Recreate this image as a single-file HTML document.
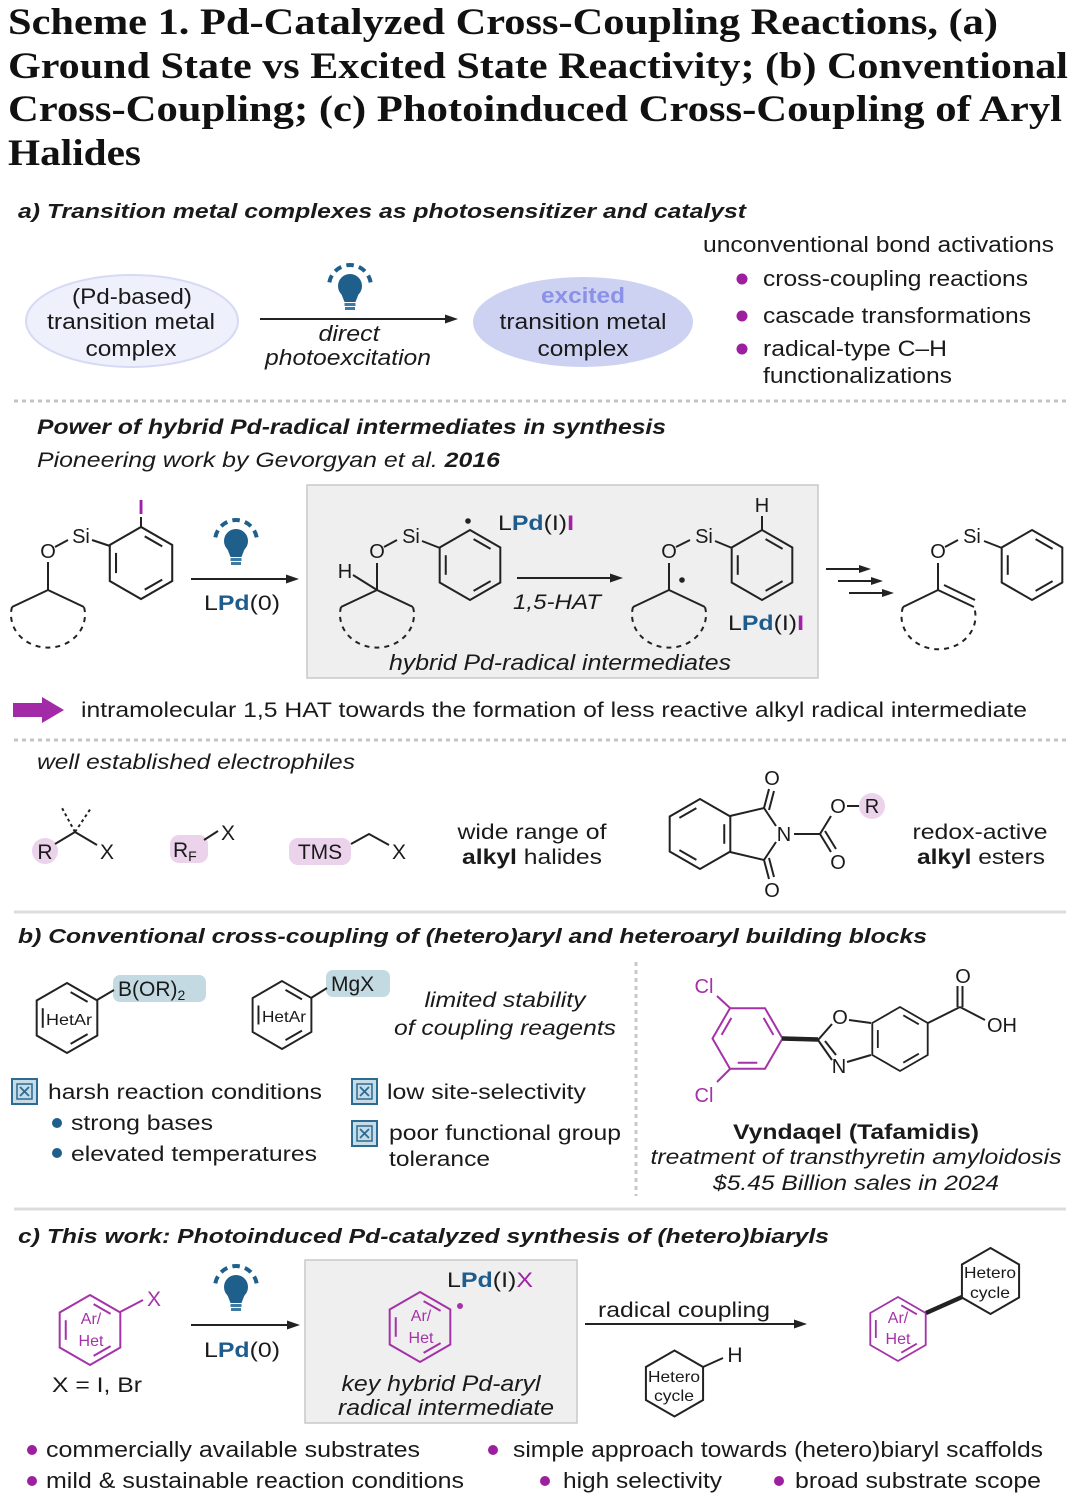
<!DOCTYPE html>
<html><head><meta charset="utf-8"><style>
html,body{margin:0;padding:0;background:#fff;width:1080px;height:1505px;overflow:hidden}
svg{display:block}
</style></head><body>
<svg width="1080" height="1505" viewBox="0 0 1080 1505" font-family="'Liberation Sans', Arial, sans-serif" fill="#1a1a1a">
<defs>
<g id="bz" fill="none">
<polygon points="0,-35 30.31,-17.5 30.31,17.5 0,35 -30.31,17.5 -30.31,-17.5"/>
<line x1="3.6" y1="-25.9" x2="20.6" y2="-16.1"/>
<line x1="-24.25" y1="-9.8" x2="-24.25" y2="9.8"/>
<line x1="20.6" y1="16.1" x2="3.6" y2="25.9"/>
</g>
<g id="hx" fill="none"><polygon points="0,-33 28.58,-16.5 28.58,16.5 0,33 -28.58,16.5 -28.58,-16.5"/></g>
<g id="bulb">
<path d="M-20.68,-3.65 A21,21 0 0 1 20.68,-3.65" fill="none" stroke="#1f5f8b" stroke-width="4" stroke-dasharray="7.5 5.3"/>
<circle r="12" fill="#1f5f8b"/>
<path d="M-9,7 L-5.5,16 L5.5,16 L9,7 Z" fill="#1f5f8b"/>
<rect x="-5.5" y="17" width="11" height="3" fill="#3d7ba3"/>
<rect x="-5" y="21" width="10" height="3" fill="#3d7ba3"/>
</g>
<g id="chk">
<rect x="0" y="0" width="25" height="25" fill="#c7dce6" stroke="#2c6b92" stroke-width="2"/>
<rect x="5" y="5" width="15" height="15" fill="none" stroke="#2c6b92" stroke-width="1.5"/>
<line x1="8" y1="8" x2="17" y2="17" stroke="#2c6b92" stroke-width="1.8"/>
<line x1="17" y1="8" x2="8" y2="17" stroke="#2c6b92" stroke-width="1.8"/>
</g>
</defs>

<!-- Title -->
<g font-family="'Liberation Serif', serif" font-weight="bold" font-size="37" fill="#111">
<text x="8" y="34" textLength="990" lengthAdjust="spacingAndGlyphs">Scheme 1. Pd-Catalyzed Cross-Coupling Reactions, (a)</text>
<text x="8" y="78" textLength="1060" lengthAdjust="spacingAndGlyphs">Ground State vs Excited State Reactivity; (b) Conventional</text>
<text x="8" y="121" textLength="1054" lengthAdjust="spacingAndGlyphs">Cross-Coupling; (c) Photoinduced Cross-Coupling of Aryl</text>
<text x="8" y="165" textLength="133" lengthAdjust="spacingAndGlyphs">Halides</text>
</g>

<!-- Section a -->
<text x="18" y="218" font-size="20" font-weight="bold" font-style="italic" textLength="728" lengthAdjust="spacingAndGlyphs">a) Transition metal complexes as photosensitizer and catalyst</text>

<ellipse cx="132" cy="321" rx="106" ry="46" fill="#eef0fc" stroke="#d6daf5" stroke-width="2"/>
<g font-size="22" text-anchor="middle">
<text x="132" y="304" textLength="120" lengthAdjust="spacingAndGlyphs">(Pd-based)</text>
<text x="131" y="329" textLength="168" lengthAdjust="spacingAndGlyphs">transition metal</text>
<text x="131" y="356" textLength="91" lengthAdjust="spacingAndGlyphs">complex</text>
</g>
<ellipse cx="583" cy="322" rx="110" ry="45" fill="#cdd2f3"/>
<g font-size="22" text-anchor="middle">
<text x="583" y="303" font-weight="bold" fill="#8a91e6" textLength="84" lengthAdjust="spacingAndGlyphs">excited</text>
<text x="583" y="329" textLength="167" lengthAdjust="spacingAndGlyphs">transition metal</text>
<text x="583" y="356" textLength="91" lengthAdjust="spacingAndGlyphs">complex</text>
</g>
<use href="#bulb" x="350" y="286"/>
<line x1="260" y1="319" x2="446" y2="319" stroke="#222" stroke-width="2"/>
<polygon points="458,319 445,314.5 445,323.5" fill="#222"/>
<g font-size="22" font-style="italic" text-anchor="middle">
<text x="349" y="341" textLength="61" lengthAdjust="spacingAndGlyphs">direct</text>
<text x="348" y="365" textLength="166" lengthAdjust="spacingAndGlyphs">photoexcitation</text>
</g>
<g font-size="22">
<text x="703" y="252" textLength="351" lengthAdjust="spacingAndGlyphs">unconventional bond activations</text>
<text x="763" y="286" textLength="265" lengthAdjust="spacingAndGlyphs">cross-coupling reactions</text>
<text x="763" y="323" textLength="268" lengthAdjust="spacingAndGlyphs">cascade transformations</text>
<text x="763" y="356" textLength="184" lengthAdjust="spacingAndGlyphs">radical-type C–H</text>
<text x="763" y="383" textLength="189" lengthAdjust="spacingAndGlyphs">functionalizations</text>
</g>
<g fill="#9c1f9f">
<circle cx="742" cy="279" r="5.5"/>
<circle cx="742" cy="316" r="5.5"/>
<circle cx="742" cy="349" r="5.5"/>
</g>

<line x1="14" y1="401" x2="1066" y2="401" stroke="#c4c4c4" stroke-width="3" stroke-dasharray="4 4"/>

<text x="37" y="434" font-size="21" font-weight="bold" font-style="italic" textLength="629" lengthAdjust="spacingAndGlyphs">Power of hybrid Pd-radical intermediates in synthesis</text>
<text x="37" y="467" font-size="21" font-style="italic" textLength="463" lengthAdjust="spacingAndGlyphs">Pioneering work by Gevorgyan et al. <tspan font-weight="bold">2016</tspan></text>

<!-- gray box -->
<rect x="307" y="485" width="511" height="193" fill="#efefef" stroke="#c9c9c9" stroke-width="1.5"/>

<!-- Starting material -->
<g stroke="#222" stroke-width="2" fill="none">
<use href="#bz" transform="translate(141,563) scale(1.03)"/>
<line x1="141" y1="527" x2="141" y2="517"/>
<line x1="92" y1="540" x2="110" y2="546"/>
<line x1="55" y1="547" x2="68" y2="540"/>
<line x1="48" y1="562" x2="48" y2="590"/>
<line x1="48" y1="590" x2="12" y2="607"/>
<line x1="48" y1="590" x2="84" y2="607"/>
<path d="M12,607 A37,33 0 1 0 84,607" stroke-dasharray="5 5"/>
</g>
<g font-size="20" text-anchor="middle">
<text x="141" y="514" fill="#a020a8" font-weight="bold">I</text>
<text x="81" y="543">Si</text>
<text x="48" y="558">O</text>
</g>
<use href="#bulb" x="236" y="541"/>
<line x1="191" y1="579" x2="287" y2="579" stroke="#222" stroke-width="2"/>
<polygon points="299,579 286,574.5 286,583.5" fill="#222"/>
<text x="242" y="610" font-size="21" text-anchor="middle" textLength="76" lengthAdjust="spacingAndGlyphs">L<tspan fill="#1d5c8c" font-weight="bold">Pd</tspan>(0)</text>

<!-- Intermediate 1 -->
<g stroke="#222" stroke-width="2" fill="none">
<use href="#bz" transform="translate(470,565) scale(1.0)"/>
<line x1="422" y1="541" x2="440" y2="548"/>
<line x1="384" y1="547" x2="397" y2="540"/>
<line x1="377" y1="563" x2="377" y2="590"/>
<line x1="353" y1="575" x2="377" y2="590"/>
<line x1="377" y1="590" x2="341" y2="607"/>
<line x1="377" y1="590" x2="413" y2="607"/>
<path d="M341,607 A37,33 0 1 0 413,607" stroke-dasharray="5 5"/>
</g>
<circle cx="468" cy="521" r="2.8" fill="#222"/>
<g font-size="20" text-anchor="middle">
<text x="411" y="543">Si</text>
<text x="377" y="558">O</text>
<text x="345" y="578">H</text>
</g>
<text x="498" y="530" font-size="21" textLength="76" lengthAdjust="spacingAndGlyphs">L<tspan fill="#1d5c8c" font-weight="bold">Pd</tspan>(I)<tspan fill="#a020a8" font-weight="bold">I</tspan></text>
<line x1="517" y1="578" x2="611" y2="578" stroke="#222" stroke-width="2"/>
<polygon points="623,578 610,573.5 610,582.5" fill="#222"/>
<text x="557" y="609" font-size="21" font-style="italic" text-anchor="middle" textLength="88" lengthAdjust="spacingAndGlyphs">1,5-HAT</text>

<!-- Intermediate 2 -->
<g stroke="#222" stroke-width="2" fill="none">
<use href="#bz" transform="translate(762,565) scale(1.0)"/>
<line x1="762" y1="530" x2="762" y2="516"/>
<line x1="715" y1="541" x2="732" y2="548"/>
<line x1="676" y1="547" x2="690" y2="540"/>
<line x1="669" y1="563" x2="669" y2="590"/>
<line x1="669" y1="590" x2="633" y2="607"/>
<line x1="669" y1="590" x2="705" y2="607"/>
<path d="M633,607 A37,33 0 1 0 705,607" stroke-dasharray="5 5"/>
</g>
<circle cx="682" cy="580" r="2.8" fill="#222"/>
<g font-size="20" text-anchor="middle">
<text x="762" y="512">H</text>
<text x="704" y="543">Si</text>
<text x="669" y="558">O</text>
</g>
<text x="728" y="630" font-size="21" textLength="76" lengthAdjust="spacingAndGlyphs">L<tspan fill="#1d5c8c" font-weight="bold">Pd</tspan>(I)<tspan fill="#a020a8" font-weight="bold">I</tspan></text>
<text x="560" y="670" font-size="22" font-style="italic" text-anchor="middle" textLength="342" lengthAdjust="spacingAndGlyphs">hybrid Pd-radical intermediates</text>

<!-- triple arrows -->
<g stroke="#222" stroke-width="2">
<line x1="826" y1="569" x2="860" y2="569"/>
<line x1="838" y1="581" x2="872" y2="581"/>
<line x1="849" y1="593" x2="883" y2="593"/>
</g>
<g fill="#222">
<polygon points="871,569 859,565 859,573"/>
<polygon points="883,581 871,577 871,585"/>
<polygon points="894,593 882,589 882,597"/>
</g>

<!-- Product -->
<g stroke="#222" stroke-width="2" fill="none">
<use href="#bz" transform="translate(1032,565) scale(1.0)"/>
<line x1="984" y1="541" x2="1002" y2="548"/>
<line x1="945" y1="547" x2="958" y2="540"/>
<line x1="938" y1="563" x2="938" y2="590"/>
<line x1="938" y1="590" x2="903" y2="607"/>
<line x1="938" y1="590" x2="974" y2="607"/>
<line x1="944" y1="585" x2="975" y2="600"/>
<path d="M903,607 A37,33 0 1 0 974,607" stroke-dasharray="5 5"/>
</g>
<g font-size="20" text-anchor="middle">
<text x="972" y="543">Si</text>
<text x="938" y="558">O</text>
</g>

<!-- purple arrow -->
<polygon points="13,703 42,703 42,697 64,710 42,723 42,717 13,717" fill="#a32aa6"/>
<text x="81" y="717" font-size="21" textLength="946" lengthAdjust="spacingAndGlyphs">intramolecular 1,5 HAT towards the formation of less reactive alkyl radical intermediate</text>

<line x1="14" y1="740" x2="1066" y2="740" stroke="#c4c4c4" stroke-width="3" stroke-dasharray="4 4"/>

<text x="37" y="769" font-size="21" font-style="italic" textLength="318" lengthAdjust="spacingAndGlyphs">well established electrophiles</text>

<!-- electrophiles -->
<circle cx="45" cy="851" r="13" fill="#ebd3ec"/>
<rect x="170" y="835" width="38" height="28" rx="9" fill="#ebd3ec"/>
<rect x="289" y="838" width="62" height="27" rx="9" fill="#ebd3ec"/>
<circle cx="872" cy="806" r="13" fill="#ebd3ec"/>
<g stroke="#222" stroke-width="2" fill="none">
<line x1="55" y1="844" x2="75" y2="832"/>
<line x1="75" y1="832" x2="97" y2="845"/>
<line x1="75" y1="832" x2="62" y2="808" stroke-dasharray="3 3"/>
<line x1="75" y1="832" x2="91" y2="808" stroke-dasharray="3 3"/>
<line x1="204" y1="840" x2="218" y2="831"/>
<polyline points="351,844 369,834 389,845"/>
</g>
<g font-size="21">
<text x="45" y="859" text-anchor="middle">R</text>
<text x="107" y="859" text-anchor="middle">X</text>
<text x="173" y="857">R<tspan font-size="14" dy="4">F</tspan></text>
<text x="228" y="840" text-anchor="middle">X</text>
<text x="320" y="859" text-anchor="middle">TMS</text>
<text x="399" y="859" text-anchor="middle">X</text>
</g>
<g font-size="21" text-anchor="middle">
<text x="532" y="839" textLength="149" lengthAdjust="spacingAndGlyphs">wide range of</text>
<text x="532" y="864" textLength="140" lengthAdjust="spacingAndGlyphs"><tspan font-weight="bold">alkyl</tspan> halides</text>
<text x="980" y="839" textLength="135" lengthAdjust="spacingAndGlyphs">redox-active</text>
<text x="981" y="864" textLength="128" lengthAdjust="spacingAndGlyphs"><tspan font-weight="bold">alkyl</tspan> esters</text>
</g>

<!-- phthalimide -->
<g stroke="#222" stroke-width="2" fill="none">
<use href="#bz" transform="translate(700,834) scale(-1.0,1.0)"/>
<line x1="730" y1="816" x2="764" y2="808"/>
<line x1="764" y1="808" x2="776" y2="826"/>
<line x1="776" y1="842" x2="764" y2="860"/>
<line x1="764" y1="860" x2="730" y2="852"/>
<line x1="764" y1="808" x2="769" y2="789"/>
<line x1="769" y1="810" x2="774" y2="791"/>
<line x1="764" y1="860" x2="769" y2="879"/>
<line x1="769" y1="858" x2="774" y2="877"/>
<line x1="794" y1="834" x2="820" y2="834"/>
<line x1="820" y1="834" x2="831" y2="816"/>
<line x1="847" y1="806" x2="859" y2="806"/>
<line x1="820" y1="834" x2="831" y2="852"/>
<line x1="825" y1="831" x2="836" y2="849"/>
</g>
<g font-size="20" text-anchor="middle">
<text x="772" y="785">O</text>
<text x="772" y="897">O</text>
<text x="784" y="841">N</text>
<text x="838" y="813">O</text>
<text x="838" y="869">O</text>
<text x="872" y="813">R</text>
</g>

<line x1="14" y1="912" x2="1066" y2="912" stroke="#dcdcdc" stroke-width="3"/>

<!-- Section b -->
<text x="18" y="943" font-size="20" font-weight="bold" font-style="italic" textLength="909" lengthAdjust="spacingAndGlyphs">b) Conventional cross-coupling of (hetero)aryl and heteroaryl building blocks</text>

<rect x="113" y="975" width="93" height="27" rx="7" fill="#c4dae3"/>
<rect x="326" y="970" width="64" height="27" rx="7" fill="#c4dae3"/>
<g stroke="#222" stroke-width="2" fill="none">
<use href="#bz" transform="translate(67,1018) scale(1.0)"/>
<line x1="97" y1="1000" x2="114" y2="990"/>
<use href="#bz" transform="translate(282,1015) scale(0.97)"/>
<line x1="311" y1="998" x2="327" y2="988"/>
</g>
<g font-size="16" text-anchor="middle">
<text x="69" y="1025" textLength="46" lengthAdjust="spacingAndGlyphs">HetAr</text>
<text x="284" y="1022" textLength="44" lengthAdjust="spacingAndGlyphs">HetAr</text>
</g>
<text x="118" y="996" font-size="21">B(OR)<tspan font-size="14" dy="4">2</tspan></text>
<text x="331" y="991" font-size="21">MgX</text>
<g font-size="21" font-style="italic" text-anchor="middle">
<text x="505" y="1007" textLength="161" lengthAdjust="spacingAndGlyphs">limited stability</text>
<text x="505" y="1035" textLength="222" lengthAdjust="spacingAndGlyphs">of coupling reagents</text>
</g>

<use href="#chk" x="12" y="1079"/>
<use href="#chk" x="352" y="1079"/>
<use href="#chk" x="352" y="1121"/>
<circle cx="57" cy="1123" r="5" fill="#1f5f8b"/>
<circle cx="57" cy="1153" r="5" fill="#1f5f8b"/>
<g font-size="21">
<text x="48" y="1099" textLength="274" lengthAdjust="spacingAndGlyphs">harsh reaction conditions</text>
<text x="71" y="1130" textLength="142" lengthAdjust="spacingAndGlyphs">strong bases</text>
<text x="71" y="1161" textLength="246" lengthAdjust="spacingAndGlyphs">elevated temperatures</text>
<text x="387" y="1099" textLength="199" lengthAdjust="spacingAndGlyphs">low site-selectivity</text>
<text x="389" y="1140" textLength="232" lengthAdjust="spacingAndGlyphs">poor functional group</text>
<text x="389" y="1166" textLength="101" lengthAdjust="spacingAndGlyphs">tolerance</text>
</g>

<line x1="636" y1="962" x2="636" y2="1196" stroke="#c8c8c8" stroke-width="3" stroke-dasharray="4 4"/>

<!-- Tafamidis -->
<g stroke="#a532a8" stroke-width="2" fill="none">
<use href="#bz" transform="translate(747.5,1038.5) rotate(-90)"/>
<line x1="730" y1="1008" x2="717" y2="996"/>
<line x1="730" y1="1069" x2="717" y2="1082"/>
</g>
<g font-size="20" text-anchor="middle" fill="#a532a8">
<text x="704" y="993">Cl</text>
<text x="704" y="1102">Cl</text>
</g>
<g stroke="#222" stroke-width="2" fill="none">
<line x1="782" y1="1038.5" x2="818" y2="1039.5" stroke-width="4.5"/>
<line x1="818" y1="1040" x2="832" y2="1024"/>
<line x1="849" y1="1020" x2="871" y2="1023"/>
<line x1="818" y1="1040" x2="832" y2="1060"/>
<line x1="825" y1="1041" x2="836" y2="1055"/>
<line x1="847" y1="1062" x2="871" y2="1055"/>
<use href="#bz" transform="translate(900,1039) scale(0.914)"/>
<line x1="928" y1="1023" x2="960" y2="1007"/>
<line x1="957.5" y1="1007" x2="957.5" y2="986"/>
<line x1="962.5" y1="1007" x2="962.5" y2="986"/>
<line x1="960" y1="1007" x2="985" y2="1020"/>
</g>
<g font-size="20" text-anchor="middle">
<text x="840" y="1024">O</text>
<text x="839" y="1073">N</text>
<text x="963" y="983">O</text>
</g>
<text x="987" y="1032" font-size="20">OH</text>

<text x="856" y="1139" font-size="21" font-weight="bold" text-anchor="middle" textLength="246" lengthAdjust="spacingAndGlyphs">Vyndaqel (Tafamidis)</text>
<text x="856" y="1164" font-size="21" font-style="italic" text-anchor="middle" textLength="411" lengthAdjust="spacingAndGlyphs">treatment of transthyretin amyloidosis</text>
<text x="856" y="1190" font-size="21" font-style="italic" text-anchor="middle" textLength="286" lengthAdjust="spacingAndGlyphs">$5.45 Billion sales in 2024</text>

<line x1="14" y1="1209" x2="1066" y2="1209" stroke="#dcdcdc" stroke-width="3"/>

<!-- Section c -->
<text x="18" y="1243" font-size="20" font-weight="bold" font-style="italic" textLength="811" lengthAdjust="spacingAndGlyphs">c) This work: Photoinduced Pd-catalyzed synthesis of (hetero)biaryls</text>

<rect x="305" y="1260" width="272" height="163" fill="#efefef" stroke="#c9c9c9" stroke-width="1.5"/>

<g stroke="#a532a8" stroke-width="2" fill="none">
<use href="#bz" transform="translate(90,1330)"/>
<line x1="120" y1="1312" x2="143" y2="1300"/>
<use href="#bz" transform="translate(420,1327)"/>
<use href="#bz" transform="translate(898,1329) scale(0.914)"/>
</g>
<g font-size="16" text-anchor="middle" fill="#a532a8">
<text x="91" y="1324">Ar/</text>
<text x="91" y="1346">Het</text>
<text x="421" y="1321">Ar/</text>
<text x="421" y="1343">Het</text>
<text x="898" y="1323">Ar/</text>
<text x="898" y="1344">Het</text>
</g>
<text x="154" y="1306" font-size="21" fill="#a532a8" text-anchor="middle">X</text>
<circle cx="460" cy="1306" r="3" fill="#a532a8"/>
<text x="97" y="1392" font-size="21" text-anchor="middle" textLength="90" lengthAdjust="spacingAndGlyphs">X = I, Br</text>

<use href="#bulb" x="236" y="1287"/>
<line x1="191" y1="1325" x2="288" y2="1325" stroke="#222" stroke-width="2"/>
<polygon points="300,1325 287,1320.5 287,1329.5" fill="#222"/>
<text x="242" y="1357" font-size="21" text-anchor="middle" textLength="76" lengthAdjust="spacingAndGlyphs">L<tspan fill="#1d5c8c" font-weight="bold">Pd</tspan>(0)</text>

<text x="447" y="1287" font-size="21" textLength="86" lengthAdjust="spacingAndGlyphs">L<tspan fill="#1d5c8c" font-weight="bold">Pd</tspan>(I)<tspan fill="#a020a8">X</tspan></text>
<g font-size="22" font-style="italic" text-anchor="middle">
<text x="441" y="1391" textLength="199" lengthAdjust="spacingAndGlyphs">key hybrid Pd-aryl</text>
<text x="446" y="1415" textLength="216" lengthAdjust="spacingAndGlyphs">radical intermediate</text>
</g>

<text x="684" y="1317" font-size="21" text-anchor="middle" textLength="172" lengthAdjust="spacingAndGlyphs">radical coupling</text>
<line x1="585" y1="1324" x2="795" y2="1324" stroke="#222" stroke-width="2"/>
<polygon points="807,1324 794,1319.5 794,1328.5" fill="#222"/>

<g stroke="#222" stroke-width="2" fill="none">
<use href="#hx" transform="translate(674.5,1383.5)"/>
<line x1="703" y1="1367" x2="723" y2="1358"/>
<use href="#hx" transform="translate(990.5,1281)"/>
<line x1="926" y1="1313" x2="962" y2="1297" stroke-width="4.5"/>
</g>
<g font-size="16" text-anchor="middle">
<text x="674" y="1382" textLength="52" lengthAdjust="spacingAndGlyphs">Hetero</text>
<text x="674" y="1401" textLength="40" lengthAdjust="spacingAndGlyphs">cycle</text>
<text x="990" y="1278" textLength="52" lengthAdjust="spacingAndGlyphs">Hetero</text>
<text x="990" y="1298" textLength="40" lengthAdjust="spacingAndGlyphs">cycle</text>
</g>
<text x="735" y="1362" font-size="21" text-anchor="middle">H</text>

<!-- bottom bullets -->
<g fill="#9c1f9f">
<circle cx="32" cy="1450" r="5"/>
<circle cx="493" cy="1450" r="5"/>
<circle cx="32" cy="1481" r="5"/>
<circle cx="545" cy="1481" r="5"/>
<circle cx="779" cy="1481" r="5"/>
</g>
<g font-size="22">
<text x="46" y="1457" textLength="374" lengthAdjust="spacingAndGlyphs">commercially available substrates</text>
<text x="513" y="1457" textLength="530" lengthAdjust="spacingAndGlyphs">simple approach towards (hetero)biaryl scaffolds</text>
<text x="46" y="1488" textLength="418" lengthAdjust="spacingAndGlyphs">mild &amp; sustainable reaction conditions</text>
<text x="563" y="1488" textLength="159" lengthAdjust="spacingAndGlyphs">high selectivity</text>
<text x="795" y="1488" textLength="246" lengthAdjust="spacingAndGlyphs">broad substrate scope</text>
</g>
</svg>
</body></html>
